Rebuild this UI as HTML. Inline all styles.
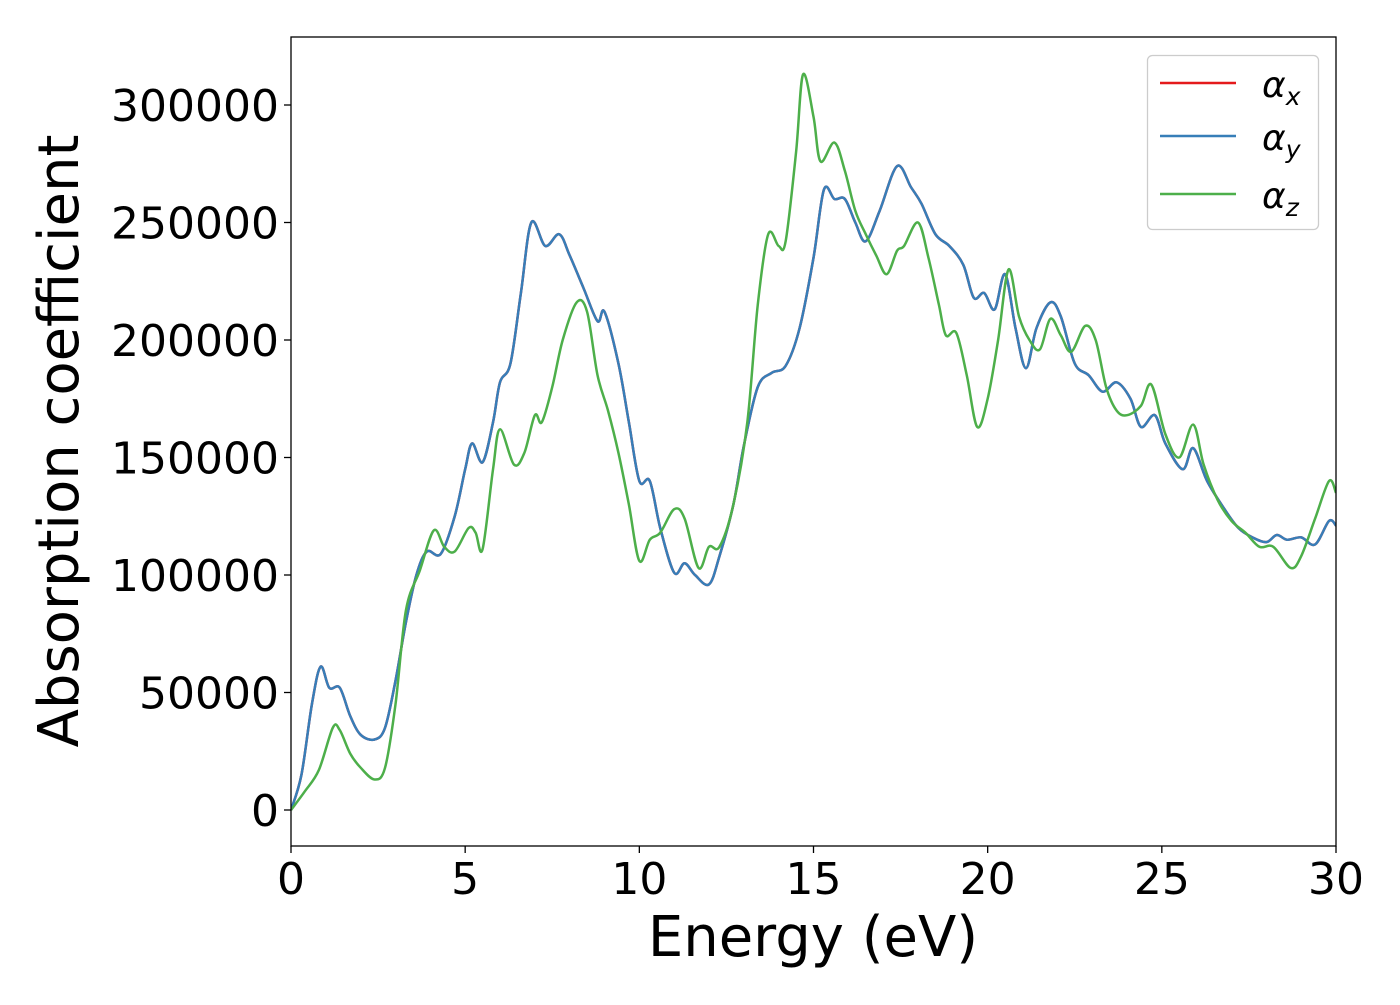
<!DOCTYPE html>
<html><head><meta charset="utf-8"><style>
body{margin:0;background:#fff;}
svg text{font-family:"DejaVu Sans","Liberation Sans",sans-serif;fill:#000;}
</style></head><body>
<svg width="1400" height="1000" xmlns="http://www.w3.org/2000/svg">
<g id="plot"></g>
</svg>
<script>
const energyB=[0,0.3,0.6,0.85,1.1,1.4,1.7,2.0,2.4,2.7,3.0,3.3,3.6,3.9,4.3,4.7,5.0,5.2,5.5,5.8,6.0,6.3,6.6,6.9,7.3,7.7,8.0,8.4,8.8,9.0,9.4,9.7,10.0,10.3,10.6,11.0,11.3,11.6,12.0,12.3,12.7,13.0,13.4,13.8,14.2,14.6,15.0,15.3,15.6,15.9,16.2,16.5,16.9,17.4,17.8,18.1,18.5,18.9,19.3,19.6,19.9,20.2,20.5,20.8,21.1,21.4,21.8,22.1,22.5,22.9,23.3,23.7,24.1,24.4,24.8,25.1,25.6,25.9,26.3,26.8,27.2,27.6,28.0,28.3,28.6,29.0,29.4,29.8,30];
const alphaXY=[0,15000,45000,61000,52000,52000,40000,32000,30000,35000,55000,80000,100000,110000,109000,125000,145000,156000,148000,165000,182000,190000,220000,250000,240000,245000,236000,222000,208000,212000,190000,165000,140000,140000,120000,101000,105000,100000,96000,108000,130000,155000,180000,186000,189000,205000,235000,264000,260000,260000,250000,242000,255000,274000,265000,258000,245000,240000,232000,218000,220000,213000,228000,205000,188000,205000,216000,210000,190000,185000,178000,182000,175000,163000,168000,156000,145000,154000,140000,128000,120000,116000,114000,117000,115000,116000,113000,123000,121000];
const energyZ=[0,0.4,0.8,1.2,1.4,1.7,2.0,2.4,2.7,3.0,3.3,3.7,4.1,4.4,4.7,5.1,5.3,5.5,5.8,6.0,6.4,6.7,7.0,7.2,7.5,7.8,8.2,8.5,8.8,9.1,9.4,9.7,10.0,10.3,10.6,11.0,11.3,11.7,12.0,12.3,12.7,13.1,13.4,13.7,14.0,14.2,14.5,14.7,15.0,15.2,15.6,15.9,16.2,16.5,16.8,17.1,17.4,17.6,18.0,18.3,18.6,18.8,19.1,19.4,19.7,20.0,20.3,20.6,20.9,21.2,21.5,21.8,22.1,22.4,22.8,23.1,23.4,23.7,24.0,24.4,24.7,25.1,25.5,25.9,26.2,26.6,27.0,27.4,27.8,28.2,28.7,29.0,29.4,29.8,30];
const alphaZ=[0,8000,17000,35000,34000,24000,18000,13000,18000,45000,85000,102000,119000,112000,110000,120000,118000,111000,145000,162000,147000,152000,168000,165000,180000,200000,216000,212000,185000,170000,152000,130000,106000,115000,118000,128000,124000,103000,112000,112000,130000,165000,215000,245000,240000,242000,280000,313000,295000,276000,284000,272000,255000,245000,236000,228000,238000,240000,250000,235000,215000,202000,203000,185000,163000,175000,200000,230000,210000,200000,196000,209000,202000,195000,206000,200000,180000,170000,168000,172000,181000,160000,150000,164000,147000,132000,123000,118000,112000,112000,103000,108000,124000,140000,135000];
const xTicks=[0,5,10,15,20,25,30];
const yTicks=[0,50000,100000,150000,200000,250000,300000];

const L=291,R=1336,T=37,B=846;
const sx=v=>L+(v-0)/30*(R-L);
const sy=v=>810-v*705/300000;
const NS="http://www.w3.org/2000/svg";
const g=document.getElementById('plot');
function mk(tag,attrs,parent){const e=document.createElementNS(NS,tag);for(const k in attrs)e.setAttribute(k,attrs[k]);(parent||g).appendChild(e);return e;}
function path(xs,ys){
  const p=xs.map((x,i)=>[sx(x),sy(ys[i])]);
  let d='M'+p[0][0]+','+p[0][1];
  for(let i=0;i<p.length-1;i++){
    const p0=p[Math.max(0,i-1)],p1=p[i],p2=p[i+1],p3=p[Math.min(p.length-1,i+2)];
    const c1=[p1[0]+(p2[0]-p0[0])/6,p1[1]+(p2[1]-p0[1])/6];
    const c2=[p2[0]-(p3[0]-p1[0])/6,p2[1]-(p3[1]-p1[1])/6];
    d+=` C${c1[0]},${c1[1]} ${c2[0]},${c2[1]} ${p2[0]},${p2[1]}`;
  }
  return d;
}
const clip=mk('clipPath',{id:'c'});mk('rect',{x:L,y:T,width:R-L,height:B-T},clip);
const lx=mk('path',{d:path(energyB,alphaXY),fill:'none',stroke:'#e41a1c','stroke-width':2.5,'clip-path':'url(#c)'});


const ly=mk('path',{d:path(energyB,alphaXY),fill:'none',stroke:'#377eb8','stroke-width':2.5,'clip-path':'url(#c)'});


const lz=mk('path',{d:path(energyZ,alphaZ),fill:'none',stroke:'#4daf4a','stroke-width':2.5,'clip-path':'url(#c)'});


const fr=mk('rect',{x:L,y:T,width:R-L,height:B-T,fill:'none',stroke:'#000','stroke-width':1.3});


xTicks.forEach(v=>{
  mk('line',{x1:sx(v),x2:sx(v),y1:B,y2:B+7,stroke:'#000','stroke-width':1.3});
  const t=mk('text',{x:sx(v),y:B+48,'text-anchor':'middle','font-size':44});t.textContent=v;
  
  
});
yTicks.forEach(v=>{
  mk('line',{x1:L-7,x2:L,y1:sy(v),y2:sy(v),stroke:'#000','stroke-width':1.3});
  const t=mk('text',{x:L-12,y:sy(v)+16,'text-anchor':'end','font-size':44});t.textContent=v;
  
  
});
const xt=mk('text',{x:813,y:956,'text-anchor':'middle','font-size':56});xt.textContent='Energy (eV)';


const yt=mk('text',{x:0,y:0,'text-anchor':'middle','font-size':56,transform:'translate(78,441) rotate(-90)'});yt.textContent='Absorption coefficient';


const lg=mk('g',{});


mk('rect',{x:1147.5,y:55.5,width:171,height:174,rx:5,fill:'#fff',stroke:'#ccc','stroke-width':1.3},lg);
[['#e41a1c','x',83],['#377eb8','y',136],['#4daf4a','z',194]].forEach(([c,s,y])=>{
  const e=mk('g',{},lg);
  
  
  mk('line',{x1:1160,x2:1236,y1:y,y2:y,stroke:c,'stroke-width':2.5},e);
  const t=mk('text',{x:1262,y:y+14,'font-size':36,'font-style':'italic'},e);
  t.textContent='α';
  const sub=mk('tspan',{'font-size':25,dy:8},t);sub.textContent=s;
});
</script>
</body></html>
